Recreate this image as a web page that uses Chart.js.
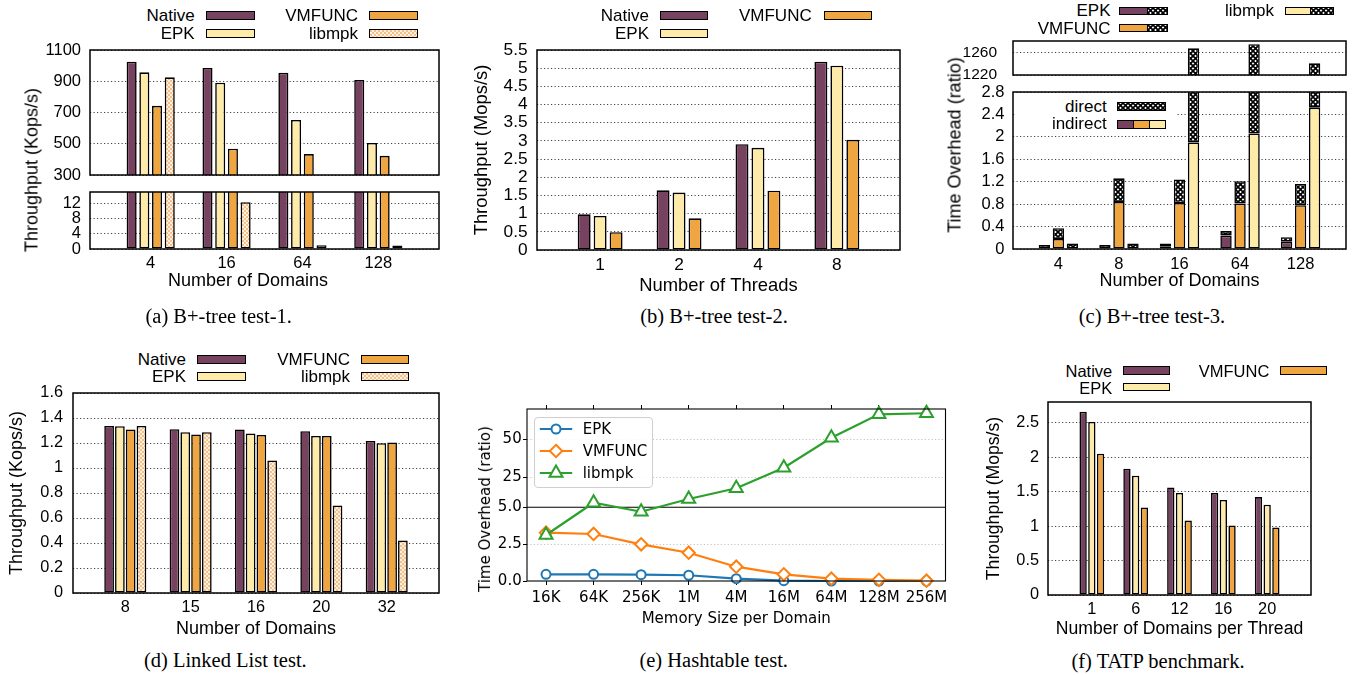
<!DOCTYPE html>
<html><head><meta charset="utf-8">
<script src="https://cdn.jsdelivr.net/npm/chart.js@4.4.1/dist/chart.umd.min.js"></script>
<style>
html,body{margin:0;padding:0;background:#fff;}
body{width:1356px;height:675px;position:relative;overflow:hidden;}
canvas{position:absolute;}
.t{position:absolute;white-space:nowrap;color:#000;line-height:1;}
.sw{position:absolute;box-sizing:border-box;border:1.5px solid #000;}
</style></head><body>
<script>
// ---------------- data ----------------
const A_CATS = ['4', '16', '64', '128'];
const A_NATIVE = [1025, 985, 955, 908];
const A_EPK = [957, 891, 652, 505];
const A_VMFUNC = [743, 468, 434, 423];
const A_LIBMPK = [925, 12.3, 1.0, 0.9];
const A_TOP_TICKS = [300, 500, 700, 900, 1100];
const A_LOW_TICKS = [0, 4, 8, 12];

const B_CATS = ['1', '2', '4', '8'];
const B_NATIVE = [0.98, 1.64, 2.91, 5.18];
const B_EPK = [0.935, 1.58, 2.81, 5.07];
const B_VMFUNC = [0.49, 0.87, 1.63, 3.03];
const B_TICKS = [0, 0.5, 1, 1.5, 2, 2.5, 3, 3.5, 4, 4.5, 5, 5.5];

const C_CATS = ['4', '8', '16', '64', '128'];
const C_EPK_IND = [0, 0, 0.05, 0.24, 0.13];
const C_EPK_DIR = [0.07, 0.07, 0.05, 0.08, 0.08];
const C_VMFUNC_IND = [0.18, 0.84, 0.82, 0.81, 0.78];
const C_VMFUNC_DIR = [0.19, 0.42, 0.42, 0.40, 0.38];
const C_LIBMPK_IND = [0, 0, 1.90, 2.06, 2.52];
const C_LIBMPK_DIR = [0.10, 0.10, 1265.1, 1272.4, 1238.1];
const C_TOP_TICKS = [1220, 1260];
const C_LOW_TICKS = [0, 0.4, 0.8, 1.2, 1.6, 2, 2.4, 2.8];

const D_CATS = ['8', '15', '16', '20', '32'];
const D_NATIVE = [1.337, 1.31, 1.308, 1.294, 1.217];
const D_EPK = [1.334, 1.286, 1.276, 1.257, 1.198];
const D_VMFUNC = [1.308, 1.268, 1.265, 1.257, 1.204];
const D_LIBMPK = [1.337, 1.286, 1.06, 0.70, 0.42];
const D_TICKS = [0, 0.2, 0.4, 0.6, 0.8, 1, 1.2, 1.4, 1.6];

const E_CATS = ['16K', '64K', '256K', '1M', '4M', '16M', '64M', '128M', '256M'];
const E_EPK = [0.45, 0.45, 0.43, 0.39, 0.16, 0.02, 0, 0, 0];
const E_VMFUNC = [3.28, 3.19, 2.49, 1.92, 0.97, 0.45, 0.16, 0.08, 0.02];
const E_LIBMPK = [3.12, 8.0, 4.7, 10.5, 17.6, 31.2, 51, 66.5, 67.2];
const E_TICKS = [0, 2.5, 5, 25, 50];

const F_CATS = ['1', '6', '12', '16', '20'];
const F_NATIVE = [2.66, 1.83, 1.56, 1.48, 1.42];
const F_EPK = [2.51, 1.73, 1.48, 1.38, 1.31];
const F_VMFUNC = [2.05, 1.27, 1.08, 1.01, 0.98];
const F_TICKS = [0, 0.5, 1, 1.5, 2, 2.5];

// ---------------- styles ----------------
const GN = '"Liberation Sans", Arial, Helvetica, sans-serif';
const DJ = '"DejaVu Sans", sans-serif';
const NATIVE = '#764260', EPKC = '#feeba9', VMC = '#f0a640';
const GRID = '#444', DASH = [1.2, 2.3];
const BW = 1.6;
Chart.defaults.font.family = GN;
Chart.defaults.color = '#000';

function tile(draw, s) { const c = document.createElement('canvas'); c.width = c.height = s; draw(c.getContext('2d'), s); return c; }
const chkTile = tile((x, s) => { x.fillStyle = '#fdf0e0'; x.fillRect(0, 0, s, s); x.fillStyle = '#f4c088'; x.fillRect(0, 0, 2, 2); x.fillRect(2, 2, 2, 2); }, 4);
const hatchTile = tile((x, s) => {
  x.fillStyle = '#fff'; x.fillRect(0, 0, s, s); x.strokeStyle = '#000'; x.lineWidth = 1.7;
  for (let dx = -s; dx <= s; dx += s) for (let dy = -s; dy <= s; dy += s) {
    x.beginPath(); x.moveTo(dx, dy); x.lineTo(dx + s, dy + s); x.moveTo(dx + s, dy); x.lineTo(dx, dy + s); x.stroke();
  }
}, 5);
const pctx = document.createElement('canvas').getContext('2d');
const CHK = pctx.createPattern(chkTile, 'repeat');
const HATCH = pctx.createPattern(hatchTile, 'repeat');
const CHK_URL = 'url(' + chkTile.toDataURL() + ')';
const HATCH_URL = 'url(' + hatchTile.toDataURL() + ')';

const frame = { id: 'frame',
  beforeDatasetsDraw(c, a, o) {
    if (o.hline === undefined) return;
    const r = c.chartArea, x = c.ctx, y = c.scales.y.getPixelForValue(o.hline);
    x.save(); x.strokeStyle = '#000'; x.lineWidth = o.w || 1.5;
    x.beginPath(); x.moveTo(r.left, y); x.lineTo(r.right, y); x.stroke(); x.restore();
  },
  afterDatasetsDraw(c, a, o) {
    const r = c.chartArea, x = c.ctx; x.save(); x.strokeStyle = '#000'; x.lineWidth = o.w || 1.5;
    x.strokeRect(r.left, r.top, r.right - r.left, r.bottom - r.top); x.restore(); } };
Chart.register(frame);

// piecewise-linear value axis (compressed above the break), as in panel (e)
const E_BRK = { at: 5, frac: 0.4285 };
class BrokenScale extends Chart.LinearScale {
  getPixelForValue(v) {
    const b = E_BRK; let d;
    if (v <= b.at) d = (v - this.min) / (b.at - this.min) * b.frac;
    else d = b.frac + (v - b.at) / (this.max - b.at) * (1 - b.frac);
    return this.getPixelForDecimal(d);
  }
  getValueForPixel(p) {
    const b = E_BRK, d = this.getDecimalForPixel(p);
    return d <= b.frac ? this.min + d / b.frac * (b.at - this.min) : b.at + (d - b.frac) / (1 - b.frac) * (this.max - b.at);
  }
}
BrokenScale.id = 'broken';
BrokenScale.defaults = Chart.LinearScale.defaults;
Chart.register(BrokenScale);

function canvasFor(b, p) {
  const W = b.w + p.l + p.r, H = b.h + p.t + p.b;
  const cv = document.createElement('canvas');
  cv.width = W; cv.height = H;
  Object.assign(cv.style, { left: (b.x - p.l) + 'px', top: (b.y - p.t) + 'px', width: W + 'px', height: H + 'px' });
  document.body.appendChild(cv);
  return cv;
}

function mk(o) {
  const b = o.box, p = o.pad;
  const cv = canvasFor(b, p);
  return new Chart(cv, {
    type: o.type, data: { datasets: o.datasets },
    options: {
      responsive: false, animation: false, events: [],
      layout: { padding: { left: 0, right: p.r, top: p.t, bottom: 0 } },
      plugins: { legend: { display: false }, tooltip: { enabled: false }, frame: { w: o.frameW || 1.5 } },
      scales: {
        x: {
          type: 'linear', position: 'bottom', min: o.xMin, max: o.xMax, offset: false,
          grid: { display: false, drawTicks: false, tickLength: 0 },
          border: { display: false },
          afterBuildTicks: s => { s.ticks = o.xLabels.map((_, i) => ({ value: i })); },
          afterFit: s => { s.height = p.b; s.paddingLeft = 0; s.paddingRight = 0; },
          ticks: { display: !!o.showXLabels, autoSkip: false, maxRotation: 0, minRotation: 0, padding: o.xPad || 0, font: o.tickFont, color: '#000', callback: v => o.xLabels[v] },
          title: o.xTitle ? { display: true, text: o.xTitle, font: o.titleFont, color: '#000', padding: { top: 0, bottom: o.xTitlePad } } : { display: false }
        },
        y: {
          type: 'linear', min: o.yMin, max: o.yMax, stacked: !!o.stacked,
          grid: { color: o.gridColor, lineWidth: 1, drawTicks: false, tickLength: 0 },
          border: { display: false, dash: o.gridDash },
          afterBuildTicks: s => { s.ticks = o.yTicks.map(v => ({ value: v })); },
          afterFit: s => { s.width = p.l; s.paddingTop = 0; s.paddingBottom = 0; },
          ticks: { autoSkip: false, padding: o.yPad, font: o.yTickFont || o.tickFont, color: '#000', callback: v => String(v) },
          title: o.yTitle ? { display: true, text: o.yTitle, font: o.titleFont, color: '#000', padding: { top: o.yTitlePad, bottom: 0 } } : { display: false }
        }
      }
    }
  });
}

function barDs(vals, bg, cp, bp, extra) {
  return Object.assign({ type: 'bar', data: vals.map((v, i) => ({ x: i, y: v })), backgroundColor: bg, borderColor: '#000',
    borderWidth: BW, borderSkipped: false, categoryPercentage: cp, barPercentage: bp,
    clip: { left: 40, right: 40, top: 0, bottom: 0 } }, extra || {});
}
function lineDs(vals, color, style, r, order) {
  return { type: 'line', data: vals.map((v, i) => ({ x: i, y: v })), borderColor: color, borderWidth: 2.2,
    pointStyle: style, pointRadius: r, pointBorderWidth: 2, pointBackgroundColor: '#fff', pointBorderColor: color,
    tension: 0, order: order, clip: { left: 20, right: 20, top: 20, bottom: 20 } };
}

// ---------------- html helpers ----------------
function T(text, x, y, o) {
  o = o || {};
  const d = document.createElement('div'); d.className = 't'; d.textContent = text;
  d.style.font = o.font || ('17px ' + GN);
  d.style.left = x + 'px'; d.style.top = y + 'px';
  const ax = o.ax === undefined ? 0.5 : o.ax;
  d.style.transform = 'translate(' + (-ax * 100) + '%,-50%)' + (o.rot ? ' rotate(' + o.rot + 'deg)' : '');
  document.body.appendChild(d); return d;
}
function SW(x, y, w, h, bg) {
  const d = document.createElement('div'); d.className = 'sw';
  Object.assign(d.style, { left: x + 'px', top: y + 'px', width: w + 'px', height: h + 'px' });
  if (bg.startsWith('url')) { d.style.backgroundImage = bg; } else d.style.background = bg;
  document.body.appendChild(d); return d;
}
function BOX(x, y, w, h, css) {
  const d = document.createElement('div'); d.style.position = 'absolute';
  Object.assign(d.style, { left: x + 'px', top: y + 'px', width: w + 'px', height: h + 'px' }, css || {});
  document.body.appendChild(d); return d;
}
const TF = { family: GN, size: 16.5 };
const TTF = { family: GN, size: 18 };
const CAP = '20.5px "Liberation Serif", "Times New Roman", serif';

// ---------------- (a) ----------------
const aSets = () => [barDs(A_NATIVE, NATIVE, .67, .79), barDs(A_EPK, EPKC, .67, .79), barDs(A_VMFUNC, VMC, .67, .79), barDs(A_LIBMPK, CHK, .67, .79)];
mk({ type: 'bar', box: { x: 90, y: 50, w: 349, h: 125 }, pad: { l: 90, r: 10, t: 12, b: 10 }, xMin: -0.8, xMax: 3.8,
  xLabels: A_CATS, showXLabels: false, yMin: 300, yMax: 1100, yTicks: A_TOP_TICKS, yPad: 9, tickFont: TF,
  gridColor: GRID, gridDash: DASH, datasets: aSets() });
mk({ type: 'bar', box: { x: 90, y: 192, w: 349, h: 57 }, pad: { l: 90, r: 10, t: 10, b: 45 }, xMin: -0.8, xMax: 3.8,
  xLabels: A_CATS, showXLabels: true, xPad: 5, yMin: 0, yMax: 15, yTicks: A_LOW_TICKS, yPad: 9, tickFont: TF,
  gridColor: GRID, gridDash: DASH, datasets: aSets() });

// ---------------- (b) ----------------
mk({ type: 'bar', box: { x: 537, y: 50, w: 363, h: 200 }, pad: { l: 70, r: 6, t: 12, b: 50 }, xMin: -0.8, xMax: 3.8,
  xLabels: B_CATS, showXLabels: true, xPad: 4.6, yMin: 0, yMax: 5.5, yTicks: B_TICKS, yPad: 9.4,
  tickFont: { family: GN, size: 17.3 }, titleFont: { family: GN, size: 18.4 },
  xTitle: 'Number of Threads', xTitlePad: 3, yTitle: 'Throughput (Mops/s)', yTitlePad: 4,
  gridColor: GRID, gridDash: DASH,
  datasets: [barDs(B_NATIVE, NATIVE, .607, .81), barDs(B_EPK, EPKC, .607, .81), barDs(B_VMFUNC, VMC, .607, .81)] });

// ---------------- (c) ----------------
const cSets = () => [
  barDs(C_EPK_IND, NATIVE, .695, .81, { stack: 'e' }), barDs(C_EPK_DIR, HATCH, .695, .81, { stack: 'e' }),
  barDs(C_VMFUNC_IND, VMC, .695, .81, { stack: 'v' }), barDs(C_VMFUNC_DIR, HATCH, .695, .81, { stack: 'v' }),
  barDs(C_LIBMPK_IND, EPKC, .695, .81, { stack: 'l' }), barDs(C_LIBMPK_DIR, HATCH, .695, .81, { stack: 'l' })];
mk({ type: 'bar', box: { x: 1013, y: 41, w: 333, h: 34 }, pad: { l: 60, r: 8, t: 10, b: 8 }, xMin: -0.75, xMax: 4.75,
  xLabels: C_CATS, showXLabels: false, yMin: 1220, yMax: 1280, yTicks: C_TOP_TICKS, yPad: 16, stacked: true,
  tickFont: TF, yTickFont: { family: GN, size: 15.5 }, gridColor: GRID, gridDash: DASH, datasets: cSets() });
mk({ type: 'bar', box: { x: 1013, y: 92, w: 333, h: 157 }, pad: { l: 60, r: 8, t: 10, b: 45 }, xMin: -0.75, xMax: 4.75,
  xLabels: C_CATS, showXLabels: true, xPad: 5.5, yMin: 0, yMax: 2.8, yTicks: C_LOW_TICKS, yPad: 8.6, stacked: true,
  tickFont: TF, titleFont: TTF, xTitle: 'Number of Domains', xTitlePad: 2.2,
  gridColor: GRID, gridDash: DASH, datasets: cSets() });

// ---------------- (d) ----------------
mk({ type: 'bar', box: { x: 73, y: 393, w: 366, h: 200 }, pad: { l: 73, r: 8, t: 12, b: 48 }, xMin: -0.8, xMax: 4.8,
  xLabels: D_CATS, showXLabels: true, xPad: 5, yMin: 0, yMax: 1.6, yTicks: D_TICKS, yPad: 10,
  tickFont: { family: GN, size: 16.3 }, titleFont: TTF, xTitle: 'Number of Domains', xTitlePad: 1,
  yTitle: 'Throughput (Kops/s)', yTitlePad: 6, gridColor: GRID, gridDash: DASH,
  datasets: [barDs(D_NATIVE, NATIVE, .66, .9), barDs(D_EPK, EPKC, .66, .9), barDs(D_VMFUNC, VMC, .66, .9), barDs(D_LIBMPK, CHK, .66, .9)] });

// ---------------- (e) ----------------
(function () {
  const EF = { family: DJ, size: 15 };
  const b = { x: 527, y: 409, w: 422, h: 172 }, p = { l: 50, r: 6, t: 12, b: 50 };
  const cv = canvasFor(b, p);
  const xTicks = s => { s.ticks = E_CATS.map((_, i) => ({ value: i })); };
  const tickGrid = { display: true, drawOnChartArea: false, drawTicks: true, tickLength: 4, tickColor: '#000', tickWidth: 1 };
  new Chart(cv, {
    type: 'line',
    data: { datasets: [
      lineDs(E_EPK, '#1f77b4', 'circle', 4.5, 3),
      lineDs(E_VMFUNC, '#ff7f0e', 'rectRot', 6.2, 2),
      lineDs(E_LIBMPK, '#2ca02c', 'triangle', 7.5, 1)] },
    options: {
      responsive: false, animation: false, events: [],
      layout: { padding: { left: 0, right: p.r, top: 0, bottom: 0 } },
      plugins: { legend: { display: false }, tooltip: { enabled: false }, frame: { w: 1.1, hline: E_BRK.at } },
      scales: {
        x: { type: 'linear', position: 'bottom', min: -0.4, max: 8.4, offset: false, grid: tickGrid, border: { display: false },
          afterBuildTicks: xTicks, afterFit: s => { s.height = p.b; s.paddingLeft = 0; s.paddingRight = 0; },
          ticks: { autoSkip: false, maxRotation: 0, minRotation: 0, padding: 4.5, font: EF, color: '#000', callback: v => E_CATS[v] },
          title: { display: true, text: 'Memory Size per Domain', font: EF, color: '#000', padding: { top: 0, bottom: 3 } } },
        x2: { type: 'linear', axis: 'x', position: 'top', min: -0.4, max: 8.4, offset: false, grid: tickGrid, border: { display: false },
          afterBuildTicks: xTicks, afterFit: s => { s.height = p.t; s.paddingLeft = 0; s.paddingRight = 0; },
          ticks: { display: false } },
        y: { type: 'broken', min: 0, max: 70,
          grid: { color: c => (c.tick && [2.5, 25, 50].includes(c.tick.value)) ? '#c4c4c4' : 'rgba(0,0,0,0)', lineWidth: 1,
            drawTicks: true, tickLength: 4, tickColor: '#000', tickWidth: 1 },
          border: { display: false, dash: [1.2, 2.2] },
          afterBuildTicks: s => { s.ticks = E_TICKS.map(v => ({ value: v })); },
          afterFit: s => { s.width = p.l; s.paddingTop = 0; s.paddingBottom = 0; },
          ticks: { autoSkip: false, padding: 1.3, font: EF, color: '#000', callback: v => v <= E_BRK.at ? v.toFixed(1) : String(v) } }
      }
    }
  });
})();

// ---------------- (f) ----------------
mk({ type: 'bar', box: { x: 1048, y: 402, w: 263, h: 193 }, pad: { l: 70, r: 8, t: 12, b: 48 }, xMin: -1, xMax: 5,
  xLabels: F_CATS, showXLabels: true, xPad: 4.4, yMin: 0, yMax: 2.8, yTicks: F_TICKS, yPad: 9,
  tickFont: { family: GN, size: 16.3 }, titleFont: { family: GN, size: 17.6 }, xTitle: 'Number of Domains per Thread', xTitlePad: 3,
  yTitle: 'Throughput (Mops/s)', yTitlePad: 5.5, gridColor: GRID, gridDash: DASH,
  datasets: [barDs(F_NATIVE, NATIVE, .596, .84), barDs(F_EPK, EPKC, .596, .84), barDs(F_VMFUNC, VMC, .596, .84)] });

// ---------------- html text: titles, legends, captions ----------------
const TT = '18px ' + GN;
T('Throughput (Kops/s)', 32, 169.5, { font: TT, rot: -90 });
T('Number of Domains', 248, 280, { font: TT });
T('Time Overhead (ratio)', 955, 145, { font: TT, rot: -90 });
T('Time Overhead (ratio)', 485, 509, { font: '15px ' + DJ, rot: -90 });

// (a) legend
T('Native', 194.7, 15.5, { ax: 1 }); SW(206, 11, 48.7, 9.3, NATIVE);
T('EPK', 194.7, 33.5, { ax: 1 }); SW(206, 29, 48.7, 9.3, EPKC);
T('VMFUNC', 358, 15.5, { ax: 1 }); SW(369, 11, 48.7, 9.3, VMC);
T('libmpk', 358, 33.5, { ax: 1 }); SW(369, 29, 48.7, 9.3, CHK_URL);
// (b) legend
T('Native', 649, 15.5, { ax: 1 }); SW(660, 11, 48.3, 9.3, NATIVE);
T('EPK', 649, 33.5, { ax: 1 }); SW(660, 29, 48.3, 9.3, EPKC);
T('VMFUNC', 811.7, 15.5, { ax: 1 }); SW(824, 11, 48.3, 9.3, VMC);
// (c) legends
T('EPK', 1110.5, 11, { ax: 1 }); SW(1119, 6.7, 28.5, 8.8, NATIVE); SW(1146.5, 6.7, 21, 8.8, HATCH_URL);
T('VMFUNC', 1110.5, 28.5, { ax: 1 }); SW(1119, 23.5, 28.5, 8.8, VMC); SW(1146.5, 23.5, 21, 8.8, HATCH_URL);
T('libmpk', 1274, 11, { ax: 1 }); SW(1285, 6.7, 25.5, 8.8, EPKC); SW(1309.5, 6.7, 24, 8.8, HATCH_URL);
BOX(1014.8, 93, 161, 40, { background: '#fff' });
T('direct', 1106.7, 106.7, { ax: 1 }); SW(1117.3, 102.3, 48.7, 8.8, HATCH_URL);
T('indirect', 1106.7, 124.3, { ax: 1 });
SW(1117.3, 120, 16.8, 8.8, NATIVE); SW(1133.2, 120, 16.8, 8.8, VMC); SW(1149.1, 120, 16.9, 8.8, EPKC);
// (d) legend
T('Native', 186, 359.5, { ax: 1 }); SW(197.3, 355, 48.4, 8.8, NATIVE);
T('EPK', 186, 376.5, { ax: 1 }); SW(197.3, 371.8, 48.4, 8.8, EPKC);
T('VMFUNC', 350, 359.5, { ax: 1 }); SW(360.7, 355, 48.4, 8.8, VMC);
T('libmpk', 350, 376.5, { ax: 1 }); SW(360.7, 371.8, 48.4, 8.8, CHK_URL);
// (f) legend
T('Native', 1112.3, 371, { ax: 1, font: '16.5px ' + GN }); SW(1123, 366, 46.7, 8.5, NATIVE);
T('EPK', 1112.3, 387.5, { ax: 1, font: '16.5px ' + GN }); SW(1123, 382.7, 46.7, 8.5, EPKC);
T('VMFUNC', 1269.3, 371, { ax: 1, font: '16.5px ' + GN }); SW(1280, 366, 46.7, 8.5, VMC);
// (e) legend
BOX(534.3, 416.7, 119, 71, { boxSizing: 'border-box', border: '1px solid #cfcfcf', borderRadius: '4px', background: 'rgba(255,255,255,0.85)' });
function eRow(y, color, shape, label) {
  const ns = 'http://www.w3.org/2000/svg';
  const s = document.createElementNS(ns, 'svg');
  s.setAttribute('width', 40); s.setAttribute('height', 20);
  Object.assign(s.style, { position: 'absolute', left: '535.5px', top: (y - 10) + 'px' });
  const l = document.createElementNS(ns, 'line');
  l.setAttribute('x1', 3.8); l.setAttribute('x2', 36.2); l.setAttribute('y1', 10); l.setAttribute('y2', 10);
  l.setAttribute('stroke', color); l.setAttribute('stroke-width', 2.2); s.appendChild(l);
  let m;
  if (shape === 'c') { m = document.createElementNS(ns, 'circle'); m.setAttribute('cx', 20); m.setAttribute('cy', 10); m.setAttribute('r', 4.5); }
  else { m = document.createElementNS(ns, 'polygon');
    m.setAttribute('points', shape === 'd' ? '20,3.8 26.2,10 20,16.2 13.8,10' : '20,2.5 26.5,13.75 13.5,13.75'); }
  m.setAttribute('fill', '#fff'); m.setAttribute('stroke', color); m.setAttribute('stroke-width', 2);
  s.appendChild(m); document.body.appendChild(s);
  T(label, 582.7, y, { ax: 0, font: '15px ' + DJ });
}
eRow(429, '#1f77b4', 'c', 'EPK');
eRow(451, '#ff7f0e', 'd', 'VMFUNC');
eRow(473.3, '#2ca02c', 't', 'libmpk');

// captions
T('(a) B+-tree test-1.', 218.7, 316, { font: CAP });
T('(b) B+-tree test-2.', 714, 316, { font: CAP });
T('(c) B+-tree test-3.', 1152, 316, { font: CAP });
T('(d) Linked List test.', 225.3, 660, { font: CAP });
T('(e) Hashtable test.', 713.7, 660, { font: CAP });
T('(f) TATP benchmark.', 1158, 660.7, { font: CAP });
</script>
</body></html>
